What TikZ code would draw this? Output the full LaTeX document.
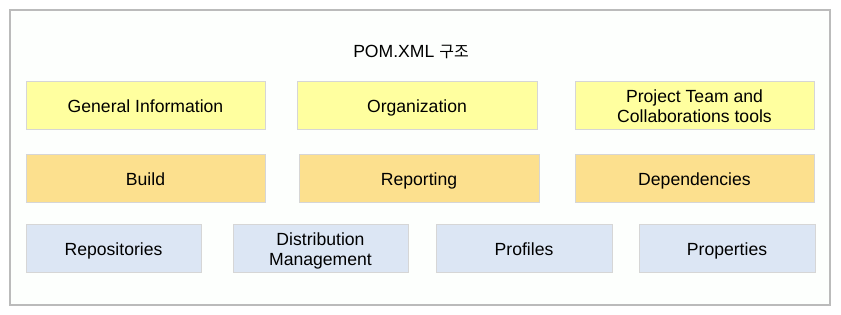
\documentclass[tikz,border=0pt]{standalone}
\usepackage{fontspec}
\setmainfont{Liberation Sans}
\newfontfamily\krfont{Noto Sans CJK KR}
\definecolor{rowa}{HTML}{FFFF9F}
\definecolor{rowb}{HTML}{FCE08E}
\definecolor{rowc}{HTML}{DCE6F4}
\definecolor{boxline}{HTML}{D6D6D6}
\definecolor{frameline}{HTML}{BBBBBB}
\begin{document}
\begin{tikzpicture}[x=1pt,y=-1pt,
  cell/.style={draw=boxline, line width=1pt, inner sep=0pt, align=center,
    font=\fontsize{17.6}{20}\selectfont, text depth=-2pt},
  cella/.style={cell, fill=rowa},
  cellb/.style={cell, fill=rowb},
  cellc/.style={cell, fill=rowc, text depth=-5pt}]
\useasboundingbox (0,0) rectangle (841,315);
\fill[white] (0,0) rectangle (841,315);
\node[draw=frameline, line width=2.5pt, fill={rgb,255:red,253;green,255;blue,253}, minimum width=820, minimum height=295, inner sep=0pt] (frame) at (420,157.5) {};
\node[font=\fontsize{17.6}{20}\selectfont] (title) at (411,52) {POM.XML {\krfont\fontsize{16}{20}\selectfont 구조}};
\node[cella, minimum width=239, minimum height=48] (gen) at (145.5,106) {General Information};
\node[cella, minimum width=240, minimum height=48] (org) at (417,106) {Organization};
\node[cella, minimum width=239, minimum height=48] (team) at (694.5,106) {Project Team and\\Collaborations tools};
\node[cellb, minimum width=239, minimum height=48] (build) at (145.5,179) {Build};
\node[cellb, minimum width=240, minimum height=48] (rep) at (419,179) {Reporting};
\node[cellb, minimum width=239, minimum height=48] (dep) at (694.5,179) {Dependencies};
\node[cellc, minimum width=175, minimum height=48] (repo) at (113.5,249) {Repositories};
\node[cellc, minimum width=175, minimum height=48] (dist) at (320.5,249) {Distribution\\Management};
\node[cellc, minimum width=176, minimum height=48] (prof) at (524,249) {Profiles};
\node[cellc, minimum width=176, minimum height=48] (prop) at (727,249) {Properties};
\end{tikzpicture}
\end{document}
